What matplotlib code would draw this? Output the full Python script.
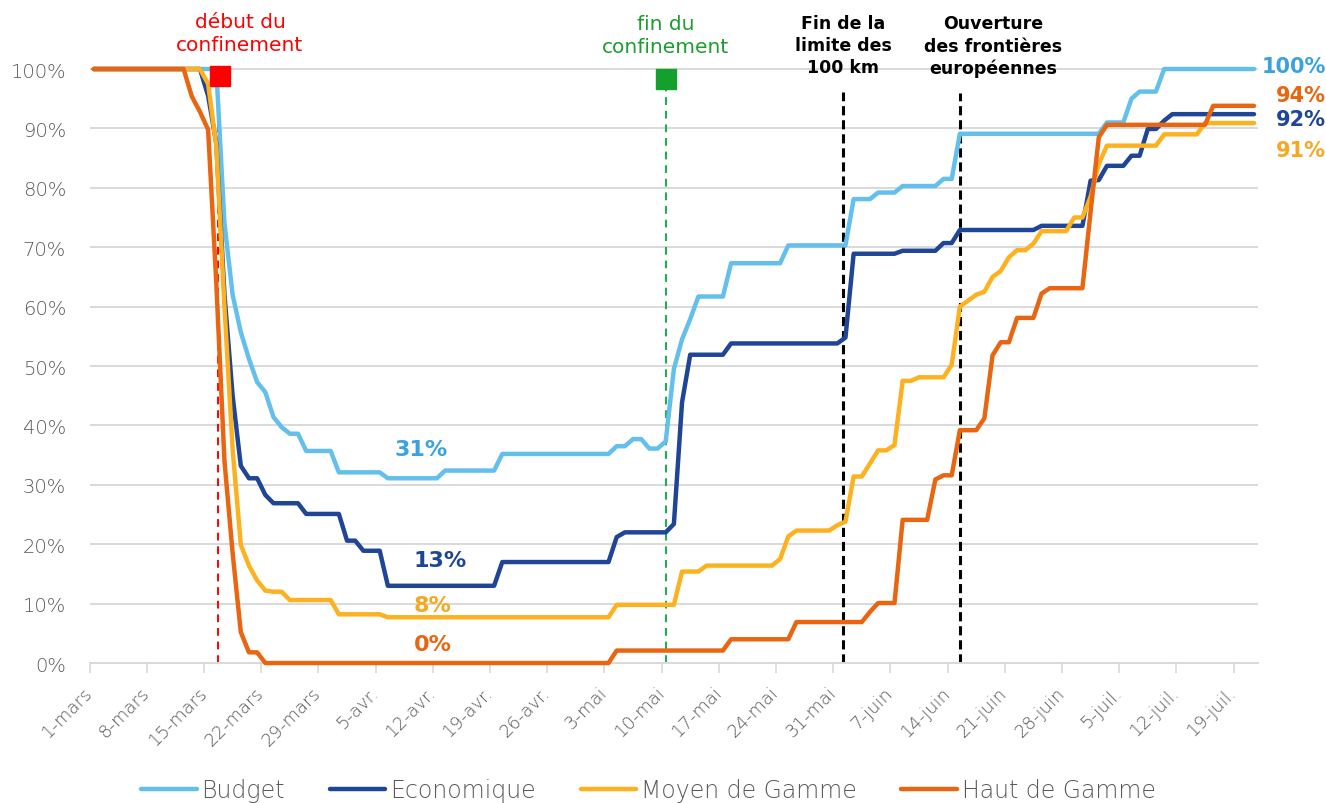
import pandas as pd
import matplotlib
matplotlib.use("Agg")
import matplotlib.pyplot as plt

# un point par jour, du 1er mars au 21 juillet 2020 (en %)
jours = pd.date_range("2020-03-01", "2020-07-21", freq="D")

budget = [
    100, 100, 100, 100, 100, 100, 100,
    100, 100, 100, 100, 100, 100, 100,
    100, 100, 74, 62, 55.7, 51.2, 47.3,
    45.6, 41.4, 39.7, 38.6, 38.6, 35.7, 35.7,
    35.7, 35.7, 32.1, 32.1, 32.1, 32.1, 32.1,
    32.1, 31.1, 31.1, 31.1, 31.1, 31.1, 31.1,
    31.1, 32.4, 32.4, 32.4, 32.4, 32.4, 32.4,
    32.4, 35.2, 35.2, 35.2, 35.2, 35.2, 35.2,
    35.2, 35.2, 35.2, 35.2, 35.2, 35.2, 35.2,
    35.2, 36.5, 36.5, 37.7, 37.7, 36.1, 36.1,
    37.3, 49.5, 54.5, 57.9, 61.7, 61.7, 61.7,
    61.7, 67.3, 67.3, 67.3, 67.3, 67.3, 67.3,
    67.3, 70.3, 70.3, 70.3, 70.3, 70.3, 70.3,
    70.3, 70.3, 78.1, 78.1, 78.1, 79.2, 79.2,
    79.2, 80.3, 80.3, 80.3, 80.3, 80.3, 81.5,
    81.5, 89.1, 89.1, 89.1, 89.1, 89.1, 89.1,
    89.1, 89.1, 89.1, 89.1, 89.1, 89.1, 89.1,
    89.1, 89.1, 89.1, 89.1, 89.1, 91.0, 91.0,
    91.0, 95.0, 96.2, 96.2, 96.2, 100, 100,
    100, 100, 100, 100, 100, 100, 100,
    100, 100, 100,
]

economique = [
    100, 100, 100, 100, 100, 100, 100,
    100, 100, 100, 100, 100, 100, 100,
    95.5, 87.5, 62, 45, 33.2, 31.1, 31.1,
    28.3, 26.9, 26.9, 26.9, 26.9, 25.1, 25.1,
    25.1, 25.1, 25.1, 20.6, 20.6, 18.9, 18.9,
    18.9, 13.0, 13.0, 13.0, 13.0, 13.0, 13.0,
    13.0, 13.0, 13.0, 13.0, 13.0, 13.0, 13.0,
    13.0, 17.0, 17.0, 17.0, 17.0, 17.0, 17.0,
    17.0, 17.0, 17.0, 17.0, 17.0, 17.0, 17.0,
    17.0, 21.2, 22.0, 22.0, 22.0, 22.0, 22.0,
    22.0, 23.4, 43.9, 51.9, 51.9, 51.9, 51.9,
    51.9, 53.8, 53.8, 53.8, 53.8, 53.8, 53.8,
    53.8, 53.8, 53.8, 53.8, 53.8, 53.8, 53.8,
    53.8, 54.8, 68.9, 68.9, 68.9, 68.9, 68.9,
    68.9, 69.4, 69.4, 69.4, 69.4, 69.4, 70.7,
    70.7, 72.9, 72.9, 72.9, 72.9, 72.9, 72.9,
    72.9, 72.9, 72.9, 72.9, 73.6, 73.6, 73.6,
    73.6, 73.6, 73.6, 81.2, 81.3, 83.7, 83.7,
    83.7, 85.4, 85.4, 89.9, 89.9, 91.3, 92.4,
    92.4, 92.4, 92.4, 92.4, 92.4, 92.4, 92.4,
    92.4, 92.4, 92.4,
]

moyen_gamme = [
    100, 100, 100, 100, 100, 100, 100,
    100, 100, 100, 100, 100, 100, 100,
    97.5, 87, 60, 36, 19.9, 16.4, 13.9,
    12.2, 12.0, 12.0, 10.6, 10.6, 10.6, 10.6,
    10.6, 10.6, 8.2, 8.2, 8.2, 8.2, 8.2,
    8.2, 7.7, 7.7, 7.7, 7.7, 7.7, 7.7,
    7.7, 7.7, 7.7, 7.7, 7.7, 7.7, 7.7,
    7.7, 7.7, 7.7, 7.7, 7.7, 7.7, 7.7,
    7.7, 7.7, 7.7, 7.7, 7.7, 7.7, 7.7,
    7.7, 9.8, 9.8, 9.8, 9.8, 9.8, 9.8,
    9.8, 9.8, 15.4, 15.4, 15.4, 16.4, 16.4,
    16.4, 16.4, 16.4, 16.4, 16.4, 16.4, 16.4,
    17.5, 21.3, 22.3, 22.3, 22.3, 22.3, 22.3,
    23.2, 23.8, 31.4, 31.4, 33.6, 35.8, 35.8,
    36.7, 47.5, 47.5, 48.1, 48.1, 48.1, 48.1,
    50.2, 60.0, 61.0, 62.0, 62.5, 65.0, 66.0,
    68.3, 69.5, 69.5, 70.6, 72.7, 72.7, 72.7,
    72.7, 75.0, 75.0, 78.5, 84.0, 87.1, 87.1,
    87.1, 87.1, 87.1, 87.1, 87.1, 89.0, 89.0,
    89.0, 89.0, 89.0, 90.9, 90.9, 90.9, 90.9,
    90.9, 90.9, 90.9,
]

haut_gamme = [
    100, 100, 100, 100, 100, 100, 100,
    100, 100, 100, 100, 100, 95.4, 92.8,
    89.8, 64, 34, 18.5, 5.2, 1.8, 1.8,
    0, 0, 0, 0, 0, 0, 0,
    0, 0, 0, 0, 0, 0, 0,
    0, 0, 0, 0, 0, 0, 0,
    0, 0, 0, 0, 0, 0, 0,
    0, 0, 0, 0, 0, 0, 0,
    0, 0, 0, 0, 0, 0, 0,
    0, 2.1, 2.1, 2.1, 2.1, 2.1, 2.1,
    2.1, 2.1, 2.1, 2.1, 2.1, 2.1, 2.1,
    2.1, 4.0, 4.0, 4.0, 4.0, 4.0, 4.0,
    4.0, 4.0, 6.9, 6.9, 6.9, 6.9, 6.9,
    6.9, 6.9, 6.9, 6.9, 8.6, 10.1, 10.1,
    10.1, 24.1, 24.1, 24.1, 24.1, 30.9, 31.6,
    31.6, 39.2, 39.2, 39.2, 41.2, 51.8, 54.0,
    54.0, 58.1, 58.1, 58.1, 62.2, 63.1, 63.1,
    63.1, 63.1, 63.1, 76, 88.5, 90.6, 90.6,
    90.6, 90.6, 90.6, 90.6, 90.6, 90.6, 90.6,
    90.6, 90.6, 90.6, 90.6, 93.8, 93.8, 93.8,
    93.8, 93.8, 93.8,
]

noms = ["Budget", "Economique", "Moyen de Gamme", "Haut de Gamme"]
valeurs = [budget, economique, moyen_gamme, haut_gamme]
couleurs = ["#63BFEC", "#1F4596", "#FDB11F", "#E9650F"]

mois = {3: "mars", 4: "avr.", 5: "mai", 6: "juin", 7: "juil."}
semaines = pd.date_range("2020-03-01", "2020-07-19", freq="7D")
labels_x = [f"{d.day}-{mois[d.month]}" for d in semaines]

GRIS = "#595959"
GRILLE = "#D9D9D9"


def jour(p):
    # position sur l'axe, en jours depuis le 1er mars
    return pd.Timestamp("2020-03-01") + pd.Timedelta(days=p)


plt.rcParams["font.family"] = ["DejaVu Sans"]
fig = plt.figure(figsize=(13.26, 8.04), dpi=100)
ax = fig.add_axes([0.0676, 0.1741, 0.8812, 0.7536])

x = jours + pd.Timedelta(hours=12)
for nom, v, c in zip(noms, valeurs, couleurs):
    ax.plot(x, v, color=c, lw=3.2, label=nom, solid_joinstyle="round",
            solid_capstyle="round", clip_on=False, zorder=3)

ax.set_xlim(jour(0), jour(143))
ax.set_ylim(0, 102)
ax.set_yticks(range(0, 101, 10))
ax.set_yticklabels([f"{v}%" for v in range(0, 101, 10)], color=GRIS, fontsize=14,
                   fontweight="light")
ax.set_xticks(semaines)
ax.set_xticklabels(labels_x, rotation=45, ha="right", va="center",
                   rotation_mode="anchor", color=GRIS, fontsize=13, fontweight="light")
ax.grid(axis="y", color=GRILLE, lw=1.4)
ax.set_axisbelow(True)
for s in ["top", "right", "left"]:
    ax.spines[s].set_visible(False)
ax.spines["bottom"].set_color(GRILLE)
ax.spines["bottom"].set_linewidth(1.4)
ax.tick_params(axis="y", length=0, pad=17)
ax.tick_params(axis="x", length=7, width=1.2, color=GRILLE, pad=12)

# événements
ax.plot([jour(15.75)] * 2, [0, 96.8], color="#FF0000", lw=1.4, ls=(0, (4, 3)), zorder=2)
ax.plot([jour(70.5)] * 2, [0, 96.6], color="#12B04A", lw=1.4, ls=(0, (4, 3)), zorder=2)
ax.plot([jour(92.25)] * 2, [0, 96.2], color="black", lw=2.2, ls=(0, (3, 1.6)), zorder=2)
ax.plot([jour(106.5)] * 2, [0, 96.0], color="black", lw=2.2, ls=(0, (3, 1.6)), zorder=2)
ax.plot(jour(16.0), 98.8, marker="s", ms=15, color="#FF0000", mec="#FF0000",
        clip_on=False, zorder=5)
ax.plot(jour(70.5), 98.4, marker="s", ms=14, color="#14A02C", mec="#14A02C",
        clip_on=False, zorder=5)

ax.text(jour(18.4), 106.1, "début du\nconfinement", color="#FF0000", fontsize=14.5,
        ha="center", va="center", linespacing=1.25)
ax.text(jour(70.5), 105.7, "fin du\nconfinement", color="#1A9E2E", fontsize=14.5,
        ha="center", va="center", linespacing=1.25)
ax.text(jour(92.2), 104.0, "Fin de la\nlimite des\n100 km", color="black", fontsize=12.5,
        fontweight="bold", ha="center", va="center", linespacing=1.3)
ax.text(jour(110.6), 103.9, "Ouverture\ndes frontières\neuropéennes", color="black",
        fontsize=12.5, fontweight="bold", ha="center", va="center", linespacing=1.3)

# valeurs minimales
ax.text(jour(40.6), 36.0, "31%", color="#3AA3DF", fontsize=16, fontweight="bold",
        ha="center", va="center")
ax.text(jour(42.9), 17.3, "13%", color="#1F4596", fontsize=16, fontweight="bold",
        ha="center", va="center")
ax.text(jour(42.0), 9.8, "8%", color="#F7A823", fontsize=16, fontweight="bold",
        ha="center", va="center")
ax.text(jour(42.0), 3.2, "0%", color="#E9650F", fontsize=16, fontweight="bold",
        ha="center", va="center")

# valeurs finales
ax.text(jour(151.3), 100.5, "100%", color="#3AA3DF", fontsize=15, fontweight="bold",
        ha="right", va="center")
ax.text(jour(151.3), 95.6, "94%", color="#E9650F", fontsize=15, fontweight="bold",
        ha="right", va="center")
ax.text(jour(151.3), 91.6, "92%", color="#1F4596", fontsize=15, fontweight="bold",
        ha="right", va="center")
ax.text(jour(151.3), 86.4, "91%", color="#F7A823", fontsize=15, fontweight="bold",
        ha="right", va="center")

leg = fig.legend(loc="center", bbox_to_anchor=(0.489, 0.016), ncol=4, frameon=False,
                 fontsize=17, handlelength=2.35, columnspacing=1.9, handletextpad=0.2)
for t in leg.get_texts():
    t.set_color(GRIS)
    t.set_fontweight("light")

fig.savefig("out.png", dpi=100)
